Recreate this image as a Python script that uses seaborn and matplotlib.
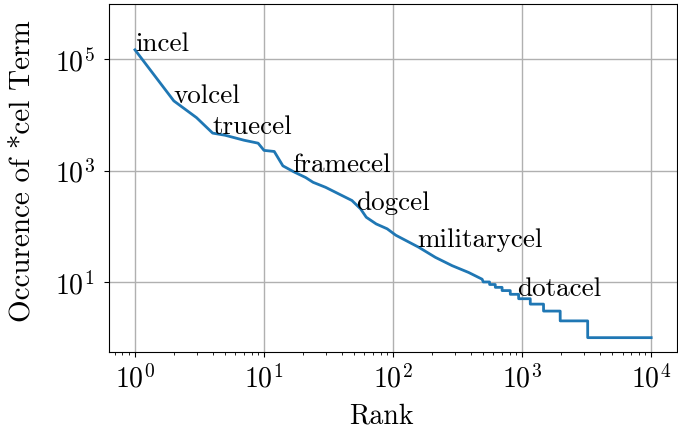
import numpy as np
import pandas as pd
import matplotlib
matplotlib.use("Agg")
import matplotlib.pyplot as plt
import matplotlib.ticker as mticker
import seaborn as sns

# smooth head of the rank/frequency curve
head_rank = [1, 2, 3, 4, 5, 7, 9, 10, 12, 14, 17, 21, 24, 30, 38, 48, 56, 62, 74, 90,
             105, 158, 213, 287, 385, 490]
head_count = [147000, 17800, 8900, 4700, 4300, 3500, 3100, 2300, 2200, 1215, 950, 750,
              615, 500, 380, 290, 205, 145, 110, 90, 69, 42, 27.6, 19.6, 14.8, 11.2]

# stepped tail: rank where each integer count begins
step_count = [10, 9, 8, 7, 6, 5, 4, 3, 2, 1]
step_start = [500, 560, 620, 700, 810, 940, 1157, 1466, 1973, 3222]
last_rank = 10000

terms = ["incel", "volcel", "truecel", "framecel", "dogcel", "militarycel", "dotacel"]
term_rank = [1, 2, 4, 16.4, 51.5, 154, 912]
term_count = [147000, 17100, 4700, 980, 200, 44, 5.8]

plt.rcParams["font.family"] = "serif"
plt.rcParams["font.serif"] = ["cmr10", "DejaVu Serif"]
plt.rcParams["mathtext.fontset"] = "cm"
plt.rcParams["axes.formatter.use_mathtext"] = True
plt.rcParams["axes.unicode_minus"] = False
plt.rcParams["font.size"] = 19.5
plt.rcParams["xtick.labelsize"] = 20
plt.rcParams["ytick.labelsize"] = 20

ranks = list(head_rank)
counts = list(head_count)
ends = step_start[1:] + [last_rank + 1]
for c, s, e in zip(step_count, step_start, ends):
    ranks += [s, e - 1]
    counts += [c, c]
df = pd.DataFrame({"rank": ranks, "count": counts})

fig = plt.figure(figsize=(6.78, 4.31), dpi=100)
ax = fig.add_axes([0.161, 0.181, 0.8375, 0.807])
sns.lineplot(data=df, x="rank", y="count", ax=ax, estimator=None, sort=True,
             color="#1f77b4", linewidth=2)
ax.set_xscale("log")
ax.set_yscale("log")
ax.set_xlim(10 ** -0.2, 10 ** 4.2)
ax.set_ylim(0.553, 9.7e5)
ax.set_yticks([1e1, 1e3, 1e5])
ax.yaxis.set_minor_locator(mticker.NullLocator())
ax.tick_params(axis="y", pad=7)
ax.tick_params(axis="x", which="major", pad=5)
ax.grid(True, which="major", color="#b0b0b0", linewidth=1)
ax.set_axisbelow(True)

for t, r, c in zip(terms, term_rank, term_count):
    ax.text(r, c, t)

ax.set_xlabel("Rank", fontsize=20, x=0.479, labelpad=7)
ax.set_ylabel("Occurence of *cel Term", fontsize=21, y=0.522, labelpad=14)

fig.savefig("out.png", dpi=100)
